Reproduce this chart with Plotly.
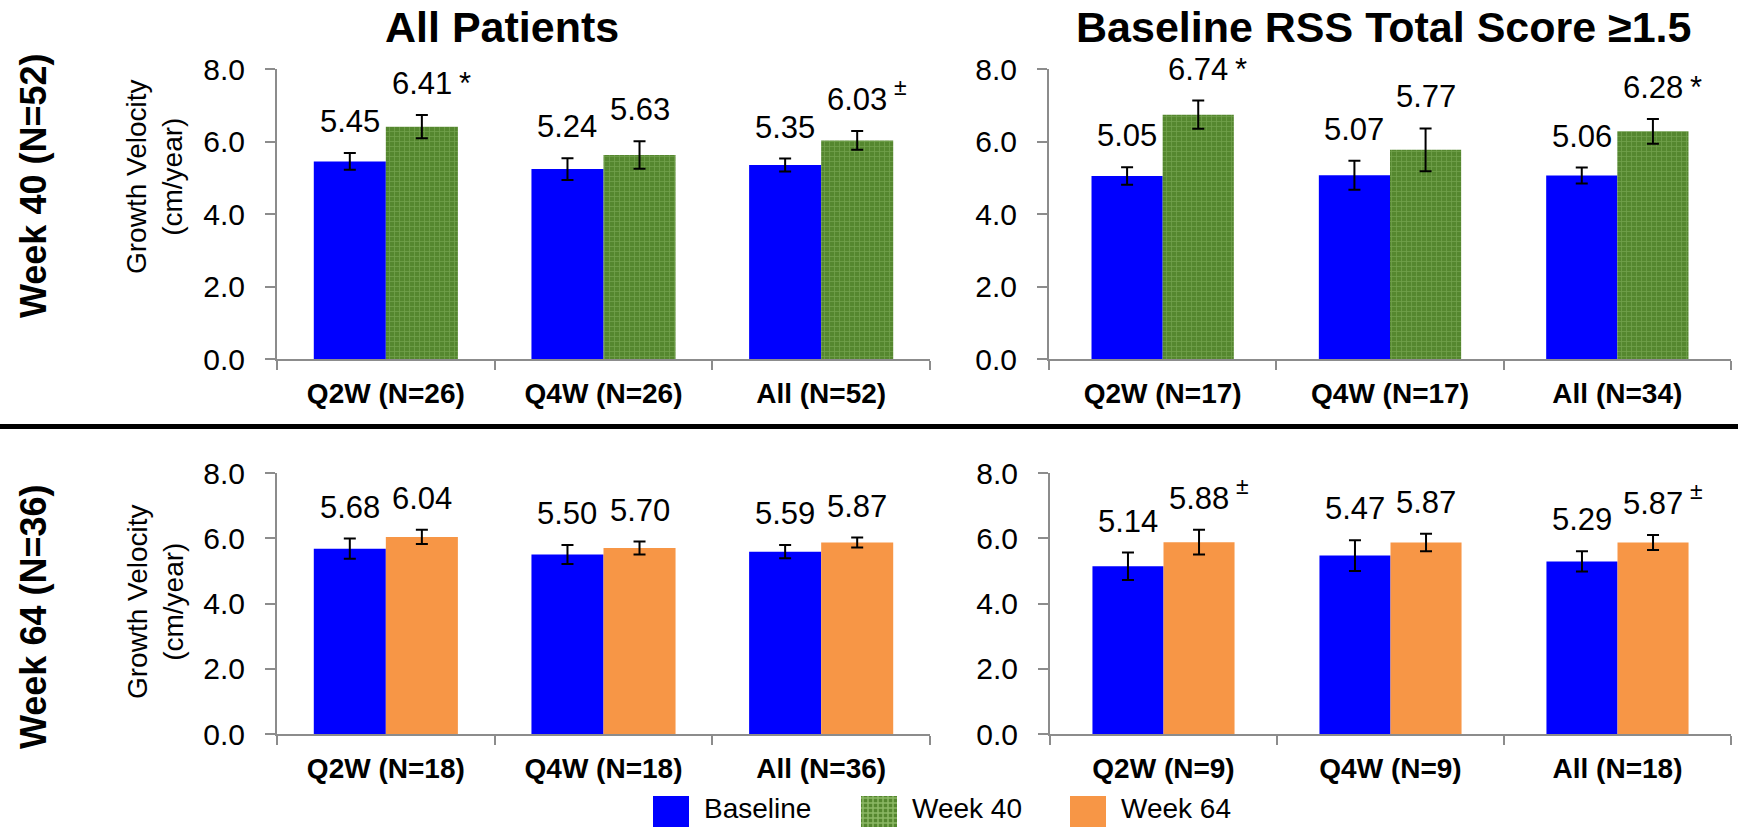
import plotly.graph_objects as go

W, H = 1738, 827
FONT = "Liberation Sans, Arial, sans-serif"

# ---------------- data ----------------
cats_tl = ["Q2W (N=26)", "Q4W (N=26)", "All (N=52)"]
base_tl = [5.45, 5.24, 5.35]
base_tl_err = [0.23, 0.30, 0.18]
wk40_tl = [6.41, 5.63, 6.03]
wk40_tl_err = [0.32, 0.38, 0.26]
wk40_tl_sig = ["*", "", "±"]

cats_tr = ["Q2W (N=17)", "Q4W (N=17)", "All (N=34)"]
base_tr = [5.05, 5.07, 5.06]
base_tr_err = [0.24, 0.40, 0.22]
wk40_tr = [6.74, 5.77, 6.28]
wk40_tr_err = [0.39, 0.59, 0.34]
wk40_tr_sig = ["*", "", "*"]

cats_bl = ["Q2W (N=18)", "Q4W (N=18)", "All (N=36)"]
base_bl = [5.68, 5.50, 5.59]
base_bl_err = [0.31, 0.29, 0.20]
wk64_bl = [6.04, 5.70, 5.87]
wk64_bl_err = [0.22, 0.20, 0.15]
wk64_bl_sig = ["", "", ""]

cats_br = ["Q2W (N=9)", "Q4W (N=9)", "All (N=18)"]
base_br = [5.14, 5.47, 5.29]
base_br_err = [0.42, 0.47, 0.31]
wk64_br = [5.88, 5.87, 5.87]
wk64_br_err = [0.38, 0.27, 0.23]
wk64_br_sig = ["±", "", "±"]

col_titles = ["All Patients", "Baseline RSS Total Score ≥1.5"]
row_titles = ["Week 40 (N=52)", "Week 64 (N=36)"]
y_title = "Growth Velocity<br>(cm/year)"
y_ticks = [0, 2, 4, 6, 8]
legend_names = ["Baseline", "Week 40", "Week 64"]

BLUE = "#0000FF"
ORANGE = "#F79646"
GREEN_BG = "#55872f"
GREEN_FG = "#8cb866"


def px(x):
    return x / W


def py(y):
    return 1 - y / H


panels = [
    # axis suffix, x-domain px, y-domain px, cats, base, berr, second, serr, sig, patterned, bar width
    ("", (277, 930), (69, 359), cats_tl, base_tl, base_tl_err, wk40_tl, wk40_tl_err, wk40_tl_sig, True, 0.331),
    ("2", (1049, 1731), (69, 359), cats_tr, base_tr, base_tr_err, wk40_tr, wk40_tr_err, wk40_tr_sig, True, 0.313),
    ("3", (277, 930), (473, 734), cats_bl, base_bl, base_bl_err, wk64_bl, wk64_bl_err, wk64_bl_sig, False, 0.331),
    ("4", (1050, 1731), (473, 734), cats_br, base_br, base_br_err, wk64_br, wk64_br_err, wk64_br_sig, False, 0.313),
]

fig = go.Figure()
annotations = []
layout_axes = {}

for suf, (x0, x1), (y0, y1), cats, base, berr, sec, serr, sig, patterned, w in panels:
    xa, ya = "x" + suf, "y" + suf
    eb = dict(type="data", visible=True, color="black", thickness=2, width=6)
    fig.add_trace(go.Bar(
        x=cats, y=base, width=w, offset=-w, xaxis=xa, yaxis=ya,
        marker=dict(color=BLUE, line=dict(width=0)),
        error_y=dict(array=berr, **eb),
        showlegend=False, hoverinfo="skip",
    ))
    if patterned:
        mk = dict(color=GREEN_BG, line=dict(width=0),
                  pattern=dict(shape="+", fgcolor=GREEN_FG, bgcolor=GREEN_BG,
                               size=5, solidity=0.3))
    else:
        mk = dict(color=ORANGE, line=dict(width=0))
    fig.add_trace(go.Bar(
        x=cats, y=sec, width=w, offset=0, xaxis=xa, yaxis=ya,
        marker=mk, error_y=dict(array=serr, **eb),
        showlegend=False, hoverinfo="skip",
    ))

    layout_axes["xaxis" + suf] = dict(
        domain=[px(x0), px(x1)], anchor=ya, type="category",
        categoryorder="array", categoryarray=cats, range=[-0.5, 2.5],
        showline=True, linecolor="#8c8c8c", linewidth=2,
        ticks="outside", tickson="boundaries", ticklen=9, tickwidth=2, tickcolor="#8c8c8c",
        tickfont=dict(family=FONT, size=28, color="black", weight="bold"),
        ticklabelstandoff=8, showgrid=False, zeroline=False, automargin=False,
    )
    layout_axes["yaxis" + suf] = dict(
        domain=[py(y1), py(y0)], anchor=xa, range=[0, 8],
        tickvals=y_ticks, tickformat=".1f",
        showline=True, linecolor="#8c8c8c", linewidth=2,
        ticks="outside", ticklen=10, tickwidth=2, tickcolor="#8c8c8c",
        tickfont=dict(family=FONT, size=30, color="black"),
        ticklabelstandoff=14, showgrid=False, zeroline=False, automargin=False,
    )

    # value labels and significance marks
    for i in range(len(cats)):
        for val, err, xpos, mark in ((base[i], berr[i], i - w / 2, ""),
                                     (sec[i], serr[i], i + w / 2, sig[i])):
            annotations.append(dict(
                x=xpos, y=val + err, xref=xa, yref=ya, text=f"{val:.2f}",
                showarrow=False, xanchor="center", yanchor="bottom", yshift=12,
                font=dict(family=FONT, size=31, color="black"),
            ))
            if mark:
                big = mark == "*"
                annotations.append(dict(
                    x=xpos, y=val + err, xref=xa, yref=ya, text=mark,
                    showarrow=False, xanchor="left", yanchor="bottom",
                    xshift=35, yshift=12 if big else 29,
                    font=dict(family=FONT, size=31 if big else 23, color="black"),
                ))

# column titles
for txt, cx in zip(col_titles, (502, 1383)):
    annotations.append(dict(x=px(cx), y=py(27), xref="paper", yref="paper",
                            text=f"<b>{txt}</b>", showarrow=False,
                            xanchor="center", yanchor="middle",
                            font=dict(family=FONT, size=43, color="black")))
# row titles
for txt, cy in zip(row_titles, (186, 617)):
    annotations.append(dict(x=px(33), y=py(cy), xref="paper", yref="paper",
                            text=f"<b>{txt}</b>", showarrow=False, textangle=-90,
                            xanchor="center", yanchor="middle",
                            font=dict(family=FONT, size=36, color="black")))
# y-axis titles
for cy in (177, 602):
    annotations.append(dict(x=px(155), y=py(cy), xref="paper", yref="paper",
                            text=y_title, showarrow=False, textangle=-90,
                            xanchor="center", yanchor="middle",
                            font=dict(family=FONT, size=28, color="black")))

# separator line
shapes = [dict(type="line", xref="paper", yref="paper", x0=0, x1=1,
               y0=py(426.5), y1=py(426.5), line=dict(color="black", width=5))]

# custom legend
sw = [(653, BLUE), (861, GREEN_BG), (1070, ORANGE)]
for (lx, colr), name in zip(sw, legend_names):
    shapes.append(dict(type="rect", xref="paper", yref="paper",
                       x0=px(lx), x1=px(lx + 36), y0=py(827), y1=py(796),
                       fillcolor=colr, line=dict(width=0)))
    annotations.append(dict(x=px(lx + 49), y=py(808), xref="paper", yref="paper",
                            text=name, showarrow=False, xanchor="left", yanchor="middle",
                            font=dict(family=FONT, size=28, color="black")))
# grid texture on the Week 40 swatch
gx0 = 861
path = ""
for k in range(2, 36, 5):
    path += f"M{px(gx0 + k)},{py(796)} L{px(gx0 + k)},{py(827)} "
for k in range(2, 31, 5):
    path += f"M{px(gx0)},{py(796 + k)} L{px(gx0 + 36)},{py(796 + k)} "
shapes.append(dict(type="path", xref="paper", yref="paper", path=path,
                   line=dict(color=GREEN_FG, width=1.5)))

fig.update_layout(
    width=W, height=H, autosize=False,
    margin=dict(l=0, r=0, t=0, b=0, pad=0, autoexpand=False),
    paper_bgcolor="white", plot_bgcolor="white",
    barmode="group", showlegend=False,
    font=dict(family=FONT, color="black"),
    annotations=annotations, shapes=shapes,
    **layout_axes,
)

fig.write_html(
    "out.html",
    config={"displayModeBar": False, "staticPlot": True},
    post_script="document.body.style.margin='0px';document.body.style.overflow='hidden';",
)
